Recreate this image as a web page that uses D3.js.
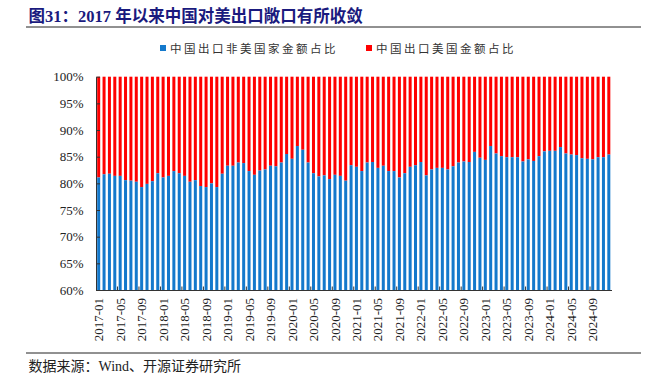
<!DOCTYPE html>
<html>
<head>
<meta charset="utf-8">
<script src="https://cdn.jsdelivr.net/npm/d3@7"></script>
<style>
  html, body { margin: 0; padding: 0; background: #fff; }
  svg { display: block; }
</style>
</head>
<body>
<svg id="chart" width="652" height="383"></svg>
<script>
// ---- data ----
const months = [];
for (let yr = 2017; yr <= 2024; yr++) for (let m = 1; m <= 12; m++) months.push(yr + "-" + String(m).padStart(2, "0"));

const nonUSShare = [
  81.1, 81.7, 81.8, 81.4, 81.4, 80.6, 80.5, 80.3, 79.3, 79.9, 80.4, 81.9,
  81.1, 81.4, 82.3, 81.9, 81.4, 80.3, 80.6, 79.5, 79.3, 80.0, 79.3, 81.8,
  83.3, 83.3, 83.9, 83.8, 82.3, 81.6, 82.4, 82.6, 83.3, 83.2, 83.9, 85.5,
  84.6, 87.0, 86.3, 83.9, 81.9, 81.3, 81.5, 80.8, 81.6, 81.4, 80.5, 83.4,
  83.1, 82.3, 83.9, 84.0, 82.9, 83.3, 82.3, 82.3, 81.1, 81.9, 83.1, 83.4,
  84.0, 81.5, 82.6, 82.9, 82.9, 82.6, 83.2, 83.9, 84.1, 84.0, 85.9, 84.8,
  84.4, 87.0, 85.6, 85.1, 84.9, 84.9, 84.9, 84.1, 84.5, 84.2, 85.1, 86.0,
  86.1, 86.1, 86.8, 85.6, 85.4, 85.3, 84.7, 84.6, 84.5, 84.9, 84.9, 85.4
];
const usShare = nonUSShare.map(v => 100 - v);

const yTicks = [60, 65, 70, 75, 80, 85, 90, 95, 100];
const xTickLabels = months.filter((d, i) => i % 4 === 0);

const seriesNames = ["中国出口非美国家金额占比", "中国出口美国金额占比"];
const seriesColors = ["#1479cc", "#ff0000"];

const titleText = "图31：2017 年以来中国对美出口敞口有所收敛";
const sourceText = "数据来源：Wind、开源证券研究所";

// ---- layout ----
const svg = d3.select("#chart");
const plotLeft = 96, plotRight = 611.5, plotTop = 76.7, plotBottom = 290;

const x = d3.scaleBand().domain(months).range([plotLeft, plotRight]).paddingInner(0.44).paddingOuter(0.22);
const y = d3.scaleLinear().domain([60, 100]).range([plotBottom, plotTop]);

// title
svg.append("text")
  .attr("x", 28.5).attr("y", 21.5)
  .attr("font-family", "'Liberation Serif', 'Noto Sans CJK SC', serif")
  .attr("font-weight", "bold")
  .attr("font-size", 16.5)
  .attr("fill", "#1a1a7e")
  .text(titleText);

svg.append("line")
  .attr("x1", 26).attr("x2", 641).attr("y1", 27).attr("y2", 27)
  .attr("stroke", "#222").attr("stroke-width", 1);

// legend
const legendX = [160, 366];
seriesNames.forEach((name, i) => {
  const g = svg.append("g").attr("transform", `translate(${legendX[i]},0)`);
  g.append("rect").attr("x", 0).attr("y", 45).attr("width", 6).attr("height", 6).attr("fill", seriesColors[i]);
  g.append("text").attr("x", 10).attr("y", 52.5)
    .attr("font-family", "'Noto Sans CJK SC', sans-serif")
    .attr("font-size", 11.5)
    .attr("letter-spacing", 2.5)
    .attr("fill", "#333")
    .text(name);
});

// bars
const bw = x.bandwidth();
svg.append("g").selectAll("rect")
  .data(months).join("rect")
  .attr("x", d => x(d)).attr("width", bw)
  .attr("y", (d, i) => y(nonUSShare[i] + usShare[i]))
  .attr("height", (d, i) => y(nonUSShare[i]) - y(nonUSShare[i] + usShare[i]))
  .attr("fill", seriesColors[1]);

svg.append("g").selectAll("rect")
  .data(months).join("rect")
  .attr("x", d => x(d)).attr("width", bw)
  .attr("y", (d, i) => y(nonUSShare[i]))
  .attr("height", (d, i) => y(60) - y(nonUSShare[i]))
  .attr("fill", seriesColors[0]);

// y axis
const yAxis = svg.append("g").attr("transform", `translate(${plotLeft},0)`)
  .call(d3.axisLeft(y).tickValues(yTicks).tickSizeInner(-4).tickSizeOuter(0).tickPadding(12.5)
    .tickFormat(d => d + "%"));
yAxis.select(".domain").attr("stroke", "#333");
yAxis.selectAll(".tick line").attr("stroke", "#333");
yAxis.selectAll("text")
  .attr("font-family", "'Liberation Serif', serif")
  .attr("font-size", 13)
  .attr("fill", "#222");

// x axis
const xAxis = svg.append("g").attr("transform", `translate(0,${plotBottom})`)
  .call(d3.axisBottom(x).tickValues(xTickLabels).tickSize(0).tickPadding(0));
xAxis.select(".domain").attr("stroke", "#333");
xAxis.selectAll("text")
  .attr("font-family", "'Liberation Serif', serif")
  .attr("font-size", 13)
  .attr("fill", "#222")
  .attr("text-anchor", "end")
  .attr("transform", "rotate(-90)")
  .attr("x", -8).attr("y", 0).attr("dy", "0.35em");

// x tick marks at category boundaries every 4 months
const step = x.step();
xAxis.selectAll("line.bound")
  .data(xTickLabels.slice(1)).join("line")
  .attr("class", "bound")
  .attr("x1", d => x(d) - (step - bw) / 2).attr("x2", d => x(d) - (step - bw) / 2)
  .attr("y1", 0).attr("y2", -3.5)
  .attr("stroke", "#333").attr("stroke-width", 1);

// footer
svg.append("line")
  .attr("x1", 26).attr("x2", 641).attr("y1", 353).attr("y2", 353)
  .attr("stroke", "#222").attr("stroke-width", 1);
svg.append("text")
  .attr("x", 28.5).attr("y", 371)
  .attr("font-family", "'Liberation Serif', 'Noto Sans CJK SC', serif")
  .attr("font-size", 14)
  .attr("fill", "#222")
  .text(sourceText);
</script>
</body>
</html>
